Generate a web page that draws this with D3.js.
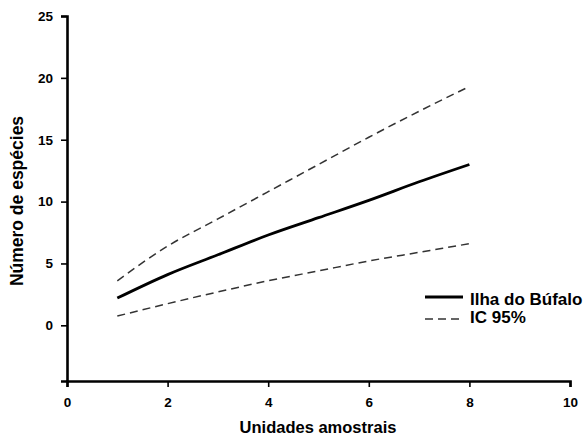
<!DOCTYPE html>
<html lang="pt">
<head>
  <meta charset="UTF-8">
  <title>Curva de acumulação de espécies</title>
  <script src="https://d3js.org/d3.v7.min.js"></script>
  <style>
    body { margin: 0; background: #fff; }
    text { font-family: "Liberation Sans", Arial, sans-serif; font-weight: bold; fill: #000; }
  </style>
</head>
<body>
  <div id="chart"></div>
  <script>
    // Data
    const units = [1, 2, 3, 4, 5, 6, 7, 8];
    const species = [2.2, 4.1, 5.7, 7.3, 8.7, 10.1, 11.6, 13.0];
    const upper95 = [3.6, 6.4, 8.6, 10.8, 13.0, 15.2, 17.3, 19.3];
    const lower95 = [0.75, 1.75, 2.7, 3.6, 4.4, 5.2, 5.9, 6.6];
    const xTicks = [0, 2, 4, 6, 8, 10];
    const yTicks = [0, 5, 10, 15, 20, 25];

    const width = 584, height = 443;
    const margin = { top: 16, right: 14, bottom: 62, left: 67 };

    const svg = d3.select("#chart").append("svg")
      .attr("width", width)
      .attr("height", height);

    const x = d3.scaleLinear().domain([0, 10])
      .range([margin.left, width - margin.right]);
    const y = d3.scaleLinear().domain([-4.5, 25])
      .range([height - margin.bottom, margin.top]);

    // axes
    const xAxis = svg.append("g")
      .attr("transform", `translate(0,${height - margin.bottom})`)
      .call(d3.axisBottom(x).tickValues(xTicks).tickSizeOuter(0).tickSize(6).tickPadding(10));
    const yAxis = svg.append("g")
      .attr("transform", `translate(${margin.left},0)`)
      .call(d3.axisLeft(y).tickValues(yTicks).tickSizeOuter(0).tickSize(6).tickPadding(8));

    [xAxis, yAxis].forEach(g => {
      g.select(".domain").attr("stroke", "#000").attr("stroke-width", 2.6);
      g.selectAll(".tick line").attr("stroke", "#000").attr("stroke-width", 1.6);
      g.selectAll(".tick text").style("font-size", "13.5px")
        .style("font-family", "'Liberation Sans', Arial, sans-serif")
        .style("font-weight", "bold");
    });

    // axis titles
    svg.append("text")
      .attr("x", 318)
      .attr("y", 433)
      .attr("text-anchor", "middle")
      .style("font-size", "16.5px")
      .text("Unidades amostrais");

    svg.append("text")
      .attr("transform", `translate(23,201) rotate(-90)`)
      .attr("text-anchor", "middle")
      .style("font-size", "17.5px")
      .text("Número de espécies");

    // lines
    const line = d3.line()
      .x((d, i) => x(units[i]))
      .y(d => y(d))
      .curve(d3.curveMonotoneX);

    [upper95, lower95].forEach(s => {
      svg.append("path")
        .datum(s)
        .attr("fill", "none")
        .attr("stroke", "#333")
        .attr("stroke-width", 1.5)
        .attr("stroke-dasharray", "8,5")
        .attr("d", line);
    });

    svg.append("path")
      .datum(species)
      .attr("fill", "none")
      .attr("stroke", "#000")
      .attr("stroke-width", 2.8)
      .attr("d", line);

    // legend
    const legend = svg.append("g").attr("transform", "translate(425,297)");
    legend.append("line")
      .attr("x1", 0).attr("x2", 38).attr("y1", 0).attr("y2", 0)
      .attr("stroke", "#000").attr("stroke-width", 2.8);
    legend.append("text")
      .attr("x", 45).attr("y", 8)
      .style("font-size", "17px")
      .text("Ilha do Búfalo");
    legend.append("line")
      .attr("x1", 0).attr("x2", 38).attr("y1", 22).attr("y2", 22)
      .attr("stroke", "#333").attr("stroke-width", 1.5)
      .attr("stroke-dasharray", "8,5");
    legend.append("text")
      .attr("x", 45).attr("y", 26)
      .style("font-size", "17px")
      .text("IC 95%");
  </script>
</body>
</html>
